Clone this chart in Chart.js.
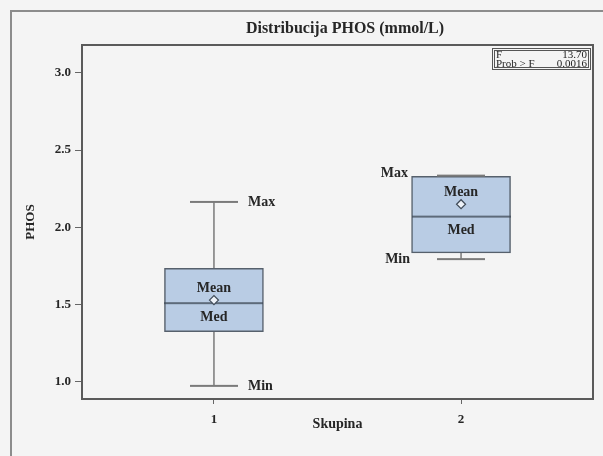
<!DOCTYPE html>
<html>
<head>
<meta charset="utf-8">
<script src="https://cdn.jsdelivr.net/npm/chart.js@4.4.1/dist/chart.umd.min.js"></script>
<style>
  html, body { margin: 0; padding: 0; background: #f4f4f4; }
  #wrap { width: 603px; height: 456px; }
</style>
</head>
<body>
<div id="wrap"><canvas id="c" width="603" height="456"></canvas></div>
<script>
// Summary statistics of PHOS (mmol/L) per group
const groups = [1, 2];
const minVals = [0.975, 1.795];
const q1Vals = [1.325, 1.835];
const medianVals = [1.51, 2.07];
const meanVals = [1.53, 2.15];
const q3Vals = [1.735, 2.33];
const maxVals = [2.165, 2.335];
const yTickValues = [1.0, 1.5, 2.0, 2.5, 3.0];
const xTickValues = [1, 2];
const fStat = '13.70';
const pValue = '0.0016';

const SERIF = '"Liberation Serif", "DejaVu Serif", serif';
const INK = '#262626';

// horizontal stroke glyph used as a point marker (whisker caps, median lines)
function strokeGlyph(width, lineWidth, color) {
  const c = document.createElement('canvas');
  c.width = width;
  c.height = 4;
  const g = c.getContext('2d');
  g.strokeStyle = color;
  g.lineWidth = lineWidth;
  g.beginPath();
  g.moveTo(0, 2);
  g.lineTo(width, 2);
  g.stroke();
  return c;
}
const capGlyph = strokeGlyph(48, 2, '#7a7a7a');
const medianGlyph = strokeGlyph(99, 1.6, '#3f4a57');

// whiskers: min..max for each group, broken between groups
const whiskerData = [];
groups.forEach((g, i) => {
  if (i > 0) whiskerData.push({ x: (groups[i - 1] + g) / 2, y: null });
  whiskerData.push({ x: g, y: minVals[i] }, { x: g, y: maxVals[i] });
});
const capData = [];
groups.forEach((g, i) => { capData.push({ x: g, y: minVals[i] }, { x: g, y: maxVals[i] }); });

const backdrop = {
  id: 'backdrop',
  beforeDraw(chart) {
    const { ctx, width, height } = chart;
    ctx.save();
    ctx.fillStyle = '#f4f4f4';
    ctx.fillRect(0, 0, width, height);
    ctx.strokeStyle = '#8c8c8c';
    ctx.lineWidth = 2;
    ctx.strokeRect(11, 11, width + 20, height + 20);
    // chart heading
    ctx.font = 'bold 16px ' + SERIF;
    ctx.fillStyle = INK;
    ctx.textAlign = 'center';
    ctx.textBaseline = 'middle';
    ctx.fillText('Distribucija PHOS (mmol/L)', 345, 29);
    ctx.restore();
  },
  afterDraw(chart) {
    const { ctx, chartArea: a } = chart;
    ctx.save();
    ctx.strokeStyle = '#5a5a5a';
    ctx.lineWidth = 2;
    ctx.strokeRect(a.left, a.top, a.right - a.left, a.bottom - a.top);
    // statistics inset
    const bx = a.right - 101, by = a.top + 3, bw = 98, bh = 21;
    ctx.lineWidth = 1;
    ctx.strokeStyle = '#555';
    ctx.strokeRect(bx + 0.5, by + 0.5, bw, bh);
    ctx.strokeRect(bx + 2.5, by + 2.5, bw - 4, bh - 4);
    ctx.font = '11px ' + SERIF;
    ctx.fillStyle = '#1e1e1e';
    ctx.textBaseline = 'middle';
    ctx.textAlign = 'left';
    ctx.fillText('F', bx + 4, by + 7.5);
    ctx.fillText('Prob > F', bx + 4, by + 16);
    ctx.textAlign = 'right';
    ctx.fillText(fStat, bx + bw - 3, by + 7.5);
    ctx.fillText(pValue, bx + bw - 3, by + 16);
    ctx.restore();
  }
};

const annotate = {
  id: 'annotate',
  afterDatasetsDraw(chart) {
    const { ctx, scales: { x, y } } = chart;
    ctx.save();
    ctx.font = 'bold 14px ' + SERIF;
    ctx.fillStyle = INK;
    ctx.textBaseline = 'middle';
    groups.forEach((g, i) => {
      const cx = x.getPixelForValue(g);
      ctx.textAlign = 'center';
      ctx.fillText('Mean', cx, y.getPixelForValue(meanVals[i]) - 12);
      ctx.fillText('Med', cx, y.getPixelForValue(medianVals[i]) + 14);
      if (i === 0) {
        ctx.textAlign = 'left';
        ctx.fillText('Max', cx + 34, y.getPixelForValue(maxVals[i]));
        ctx.fillText('Min', cx + 34, y.getPixelForValue(minVals[i]) + 1);
      } else {
        ctx.textAlign = 'right';
        ctx.fillText('Max', cx - 53, y.getPixelForValue(maxVals[i]) - 2);
        ctx.fillText('Min', cx - 51, y.getPixelForValue(minVals[i]));
      }
    });
    ctx.restore();
  }
};

new Chart(document.getElementById('c'), {
  type: 'bar',
  data: {
    datasets: [
      {
        type: 'line',
        data: whiskerData,
        borderColor: '#7a7a7a',
        borderWidth: 1.5,
        pointRadius: 0,
        spanGaps: false,
        order: 5
      },
      {
        type: 'bar',
        data: groups.map((g, i) => ({ x: g, y: [q1Vals[i], q3Vals[i]] })),
        backgroundColor: '#b9cce4',
        borderColor: '#56606c',
        borderWidth: 1.5,
        borderSkipped: false,
        barThickness: 99,
        order: 4
      },
      {
        type: 'scatter',
        data: capData,
        pointStyle: capGlyph,
        pointRadius: 1,
        order: 3
      },
      {
        type: 'scatter',
        data: groups.map((g, i) => ({ x: g, y: medianVals[i] })),
        pointStyle: medianGlyph,
        pointRadius: 1,
        order: 2
      },
      {
        type: 'scatter',
        data: groups.map((g, i) => ({ x: g, y: meanVals[i] })),
        pointStyle: 'rectRot',
        pointRadius: 4.5,
        backgroundColor: '#eef2f8',
        borderColor: '#3f4a57',
        borderWidth: 1.2,
        order: 1
      }
    ]
  },
  options: {
    responsive: false,
    devicePixelRatio: 1,
    animation: false,
    layout: { padding: { left: 10, right: 10, top: 45, bottom: 0 } },
    plugins: { legend: { display: false }, tooltip: { enabled: false }, title: { display: false } },
    scales: {
      x: {
        type: 'linear',
        offset: false,
        min: 0.466,
        max: 2.534,
        afterFit(s) { s.height = 57; },
        afterBuildTicks(s) { s.ticks = xTickValues.map(v => ({ value: v })); },
        grid: { offset: false, drawOnChartArea: false, drawTicks: true, tickLength: 5, color: '#666', lineWidth: 1 },
        border: { display: false },
        ticks: {
          padding: 8,
          color: INK,
          font: { family: SERIF, size: 13, weight: 'bold' },
          callback: v => String(v)
        },
        title: {
          display: true,
          text: 'Skupina',
          color: INK,
          font: { family: SERIF, size: 14, weight: 'bold' },
          padding: { top: 23, bottom: 23 }
        }
      },
      y: {
        type: 'linear',
        min: 0.89,
        max: 3.18,
        afterFit(s) { s.width = 72; },
        afterBuildTicks(s) { s.ticks = yTickValues.map(v => ({ value: v })); },
        grid: { drawOnChartArea: false, drawTicks: true, tickLength: 7, color: '#666', lineWidth: 1 },
        border: { display: false },
        ticks: {
          padding: 4,
          color: INK,
          font: { family: SERIF, size: 13, weight: 'bold' },
          callback: v => Number(v).toFixed(1)
        },
        title: {
          display: true,
          text: 'PHOS',
          color: INK,
          font: { family: SERIF, size: 13, weight: 'bold' },
          padding: { top: 13, bottom: 13 }
        }
      }
    }
  },
  plugins: [backdrop, annotate]
});
</script>
</body>
</html>
